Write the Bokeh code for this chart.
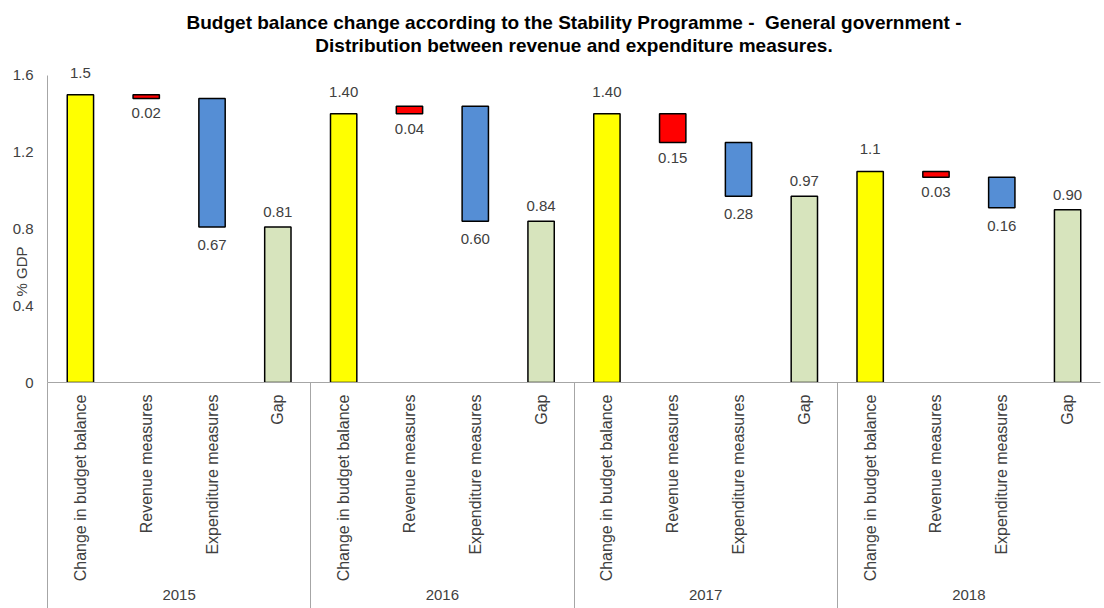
import math
from bokeh.plotting import figure
from bokeh.models import (FactorRange, Range1d, LinearAxis, FixedTicker, Title)
from bokeh.embed import file_html
from bokeh.resources import INLINE
from bokeh.core.properties import value

# ---------------- data ----------------
years = ["2015", "2016", "2017", "2018"]
measures = ["Change in budget balance", "Revenue measures",
            "Expenditure measures", "Gap"]
balance = [1.50, 1.40, 1.40, 1.10]
revenue = [0.02, -0.04, 0.15, 0.03]      # positive = lowers the balance
expenditure = [0.67, 0.60, 0.28, 0.16]
gap = [0.81, 0.84, 0.97, 0.90]
balance_labels = ["1.5", "1.40", "1.40", "1.1"]
revenue_labels = ["0.02", "0.04", "0.15", "0.03"]
expenditure_labels = ["0.67", "0.60", "0.28", "0.16"]
gap_labels = ["0.81", "0.84", "0.97", "0.90"]
y_ticks = [0, 0.4, 0.8, 1.2, 1.6]
y_tick_labels = ["0", "0.4", "0.8", "1.2", "1.6"]
y_title = "% GDP"
title_lines = ["Budget balance change according to the Stability Programme -\u00a0 General government -",
               "Distribution between revenue and expenditure measures."]

FONT = "Liberation Sans"
TXT = "#404040"
GRAY = "#a6a6a6"

factors = [(y, m) for y in years for m in measures]

p = figure(width=1104, height=608, output_backend="svg", toolbar_location=None,
           title=None,
           x_range=FactorRange(*factors, group_padding=0, factor_padding=0,
                               range_padding=0),
           y_range=Range1d(0, 1.704),
           min_border_left=47, min_border_right=4, min_border_top=55,
           min_border_bottom=226)
p.outline_line_color = None
p.grid.visible = False
p.background_fill_color = "white"

# two centred title lines (first added = closest to the frame)
for line in reversed(title_lines):
    p.add_layout(Title(text=line, align="center", text_font=FONT,
                       text_font_size="19px", text_font_style="bold",
                       text_color="black", standoff=0), "above")

x_bal = [(y, measures[0]) for y in years]
x_rev = [(y, measures[1]) for y in years]
x_exp = [(y, measures[2]) for y in years]
x_gap = [(y, measures[3]) for y in years]

rev_top = balance
rev_bot = [b - r for b, r in zip(balance, revenue)]
exp_top = rev_bot
exp_bot = [t - e for t, e in zip(exp_top, expenditure)]

W = 0.4
common = dict(width=W, line_color="black", line_width=1.5)
p.vbar(x=x_bal, bottom=0, top=balance, fill_color="#FFFF00", **common)
p.vbar(x=x_rev, bottom=rev_bot, top=rev_top, fill_color="#FF0000", **common)
p.vbar(x=x_exp, bottom=exp_bot, top=exp_top, fill_color="#558ED5", **common)
p.vbar(x=x_gap, bottom=0, top=gap, fill_color="#D7E4BD", **common)

tstyle = dict(text_font=value(FONT), text_font_size="15px", text_color=TXT,
              text_align="center")
p.text(x=x_bal, y=balance, text=balance_labels, text_baseline="bottom",
       y_offset=-17, **tstyle)
p.text(x=x_gap, y=gap, text=gap_labels, text_baseline="bottom",
       y_offset=-10, **tstyle)
p.text(x=x_rev, y=[min(a, b) for a, b in zip(rev_top, rev_bot)],
       text=revenue_labels, text_baseline="top", y_offset=10, **tstyle)
p.text(x=x_exp, y=exp_bot, text=expenditure_labels, text_baseline="top",
       y_offset=13, **tstyle)

# y axis
ya = p.yaxis[0]
ya.ticker = FixedTicker(ticks=y_ticks)
ya.major_label_overrides = {t: l for t, l in zip(y_ticks, y_tick_labels)}
ya.bounds = (0, 1.6)
ya.axis_line_color = GRAY
ya.major_tick_line_color = None
ya.minor_tick_line_color = None
ya.major_tick_out = 0
ya.major_tick_in = 0
ya.major_label_text_font = FONT
ya.major_label_text_font_size = "15px"
ya.major_label_text_color = TXT
ya.major_label_standoff = 14
# trailing em spaces push the centred title down, between the 0.4 and 0.8 ticks
ya.axis_label = y_title + "\u2003" * 7
ya.axis_label_text_font = FONT
ya.axis_label_text_font_size = "15px"
ya.axis_label_text_font_style = "normal"
ya.axis_label_text_color = TXT
ya.axis_label_standoff = -20

# x axis (categorical)
xa = p.xaxis[0]
xa.axis_line_color = GRAY
xa.major_tick_line_color = None
xa.minor_tick_line_color = None
xa.separator_line_color = None
xa.major_label_orientation = math.pi / 2
xa.major_label_text_font = FONT
xa.major_label_text_font_size = "16px"
xa.major_label_text_color = TXT
xa.major_label_standoff = 6
xa.group_text_font = FONT
xa.group_text_font_size = "15px"
xa.group_text_font_style = "normal"
xa.group_text_color = TXT

# group separators (long tick lines like Excel), on the factor range's
# synthetic coordinates: group boundaries sit at 0, 4, 8, 12.
# Zero-size axis next to the frame whose ticks reach outward over the labels.
sep = LinearAxis(ticker=FixedTicker(ticks=[0, 4, 8, 12]),
                 major_tick_in=-226, major_tick_out=0,
                 major_tick_line_color=GRAY, minor_tick_line_color=None,
                 axis_line_color=None, major_label_text_font_size="0px",
                 major_label_standoff=0, major_label_text_color=None)
p.below = [sep] + list(p.below)

open("out.html", "w").write(file_html(p, INLINE))
